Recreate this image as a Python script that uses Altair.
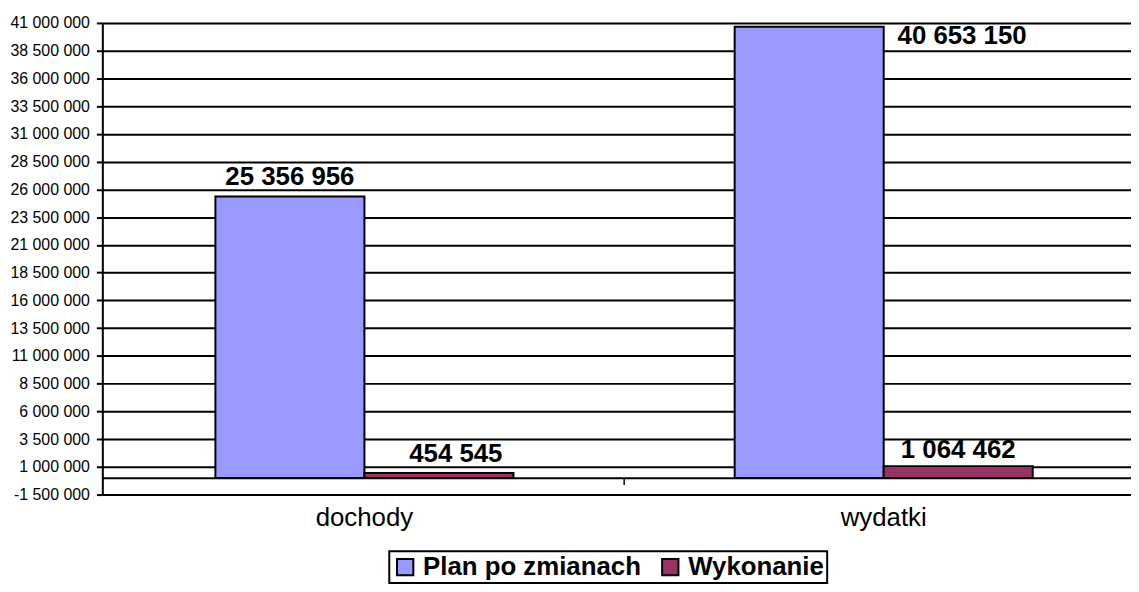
import altair as alt
import pandas as pd

categories = ["dochody", "dochody", "wydatki", "wydatki"]
series = ["Plan po zmianach", "Wykonanie", "Plan po zmianach", "Wykonanie"]
values = [25356956, 454545, 40653150, 1064462]
labels = ["25 356 956", "454 545", "40 653 150", "1 064 462"]
tick_values = [-1500000 + 2500000 * i for i in range(18)]

df = pd.DataFrame({"cat": categories, "series": series, "value": values, "label": labels})

FONT = "Liberation Sans"
CAT_SORT = ["dochody", "wydatki"]

x_scale = alt.Scale(paddingInner=0.426, paddingOuter=0.2035, align=0.535)
x_axis = alt.Axis(
    offset=-17, domainColor="black", domainWidth=2, tickOpacity=0,
    tickSize=7, labelAngle=0, labelFontSize=26, labelColor="black",
    labelFont=FONT, labelPadding=20, grid=False,
)
y_scale = alt.Scale(domain=[-1500000, 41000000], nice=False, zero=False)
y_axis = alt.Axis(
    values=tick_values, tickCount=40, grid=True, gridColor="black", gridWidth=2, gridOpacity=1,
    domainColor="black", domainWidth=2, tickColor="black", tickWidth=2, tickSize=6,
    labelFont=FONT, labelFontSize=16, labelColor="black", labelPadding=7,
    labelOverlap=False,
    labelExpr="replace(replace(format(datum.value, ','), /,/g, ' '), '\u2212', '-')",
)
color_enc = alt.Color(
    "series:N",
    scale=alt.Scale(domain=["Plan po zmianach", "Wykonanie"], range=["#9999FF", "#993366"]),
    legend=alt.Legend(
        title=None, orient="none", direction="horizontal", legendX=289, legendY=532,
        symbolType="square", symbolSize=270, symbolStrokeColor="black", symbolStrokeWidth=2,
        labelFont=FONT, labelFontSize=26, labelFontWeight="bold", labelColor="black",
        labelLimit=400, fillColor="white", padding=3, columnPadding=16, labelOffset=5,
    ),
)

base = alt.Chart(df)

bars = base.mark_bar(stroke="black", strokeWidth=2).encode(
    x=alt.X("cat:N", title=None, sort=CAT_SORT, scale=x_scale, axis=x_axis),
    xOffset=alt.XOffset("series:N", scale=alt.Scale(paddingInner=0, paddingOuter=0)),
    y=alt.Y("value:Q", title=None, scale=y_scale, axis=y_axis),
    y2=alt.datum(0),
    color=color_enc,
)


def value_text(label, **kw):
    return base.transform_filter(alt.datum.label == label).mark_text(
        font=FONT, fontSize=26, fontWeight="bold", color="black", **kw
    ).encode(
        x=alt.X("cat:N", sort=CAT_SORT, title=None, scale=x_scale, axis=x_axis),
        xOffset=alt.XOffset("series:N"),
        y=alt.Y("value:Q", title=None, scale=y_scale, axis=y_axis),
        text="label:N",
    )


t1 = value_text("25 356 956", baseline="alphabetic", dy=-12)
t2 = value_text("454 545", baseline="alphabetic", dy=-11, dx=17)
t3 = value_text("40 653 150", align="left", baseline="alphabetic", dx=89, dy=17)
t4 = value_text("1 064 462", baseline="alphabetic", dy=-8)

# category separator tick on the zero line (between the two category bands)
sep = base.transform_filter(alt.datum.cat == "dochody").transform_filter(
    alt.datum.series == "Wykonanie"
).mark_rule(color="black", strokeWidth=1.5, xOffset=111.5, y2Offset=7).encode(
    x=alt.X("cat:N", sort=CAT_SORT, title=None, scale=x_scale, axis=x_axis, bandPosition=1),
    y=alt.datum(0),
    y2=alt.datum(0),
)

chart = alt.layer(bars, t1, t2, t3, t4, sep).properties(
    width=1036, height=475,
    padding={"left": 95, "top": 13, "right": 0, "bottom": 88},
    autosize=alt.AutoSizeParams(type="none"),
    background="white",
).configure_view(stroke=None).configure_legend(
    strokeColor="black", strokeWidth=2
).configure_axisY(labelOverlap=False)

chart.save("out.html", embed_options={"renderer": "svg", "actions": False})
